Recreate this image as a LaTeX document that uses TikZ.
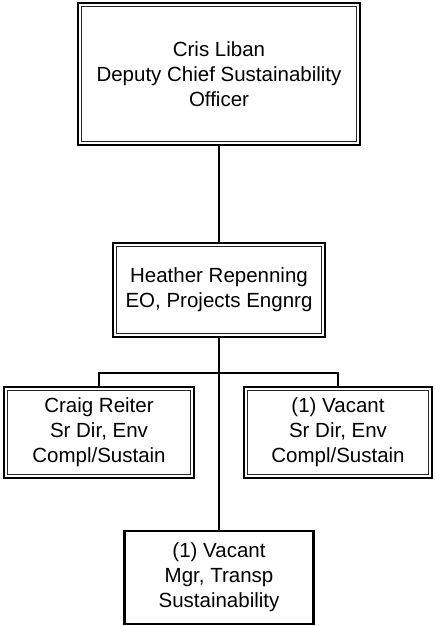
\documentclass[tikz,border=0pt]{standalone}
\usepackage{fontspec}
\setmainfont{Liberation Sans}
\usepackage{tikz}

\begin{document}
\begin{tikzpicture}[x=1pt,y=-1pt,line width=2pt]
    \tikzstyle{post}=[draw,line width=2.2pt,align=center,inner sep=0pt,
        font=\fontsize{20.5}{25}\selectfont]
    \tikzstyle{inner line}=[line width=1pt,black!85]
    \tikzstyle{link}=[draw,line width=2pt]

    \useasboundingbox (0,0) rectangle (435,626);

    % Draw the posts
    \node[post,minimum width=282pt,minimum height=142pt] (cris) at (219,74)
        {Cris Liban\\Deputy Chief Sustainability\\Officer};
    \node[post,minimum width=212pt,minimum height=94pt] (heather) at (219,290)
        {Heather Repenning\\EO, Projects Engnrg};
    \node[post,minimum width=190pt,minimum height=91pt] (craig) at (99,432.5)
        {Craig Reiter\\Sr Dir, Env\\Compl/Sustain};
    \node[post,minimum width=188pt,minimum height=91pt] (vacsr) at (338,432.5)
        {(1) Vacant\\Sr Dir, Env\\Compl/Sustain};
    \node[post,minimum width=189pt,minimum height=93pt] (vacmgr) at (219,577.5)
        {(1) Vacant\\Mgr, Transp\\Sustainability};

    % Second border of the double boxes
    \foreach \n in {cris,heather,craig,vacsr}
        \draw[inner line] ([xshift=4.5pt,yshift=-4.5pt]\n.north west)
            rectangle ([xshift=-4.5pt,yshift=4.5pt]\n.south east);

    % Reporting lines
    \coordinate (bar) at (219,373);
    \path[link] (cris) -- (heather);
    \path[link] (heather) -- (vacmgr);
    \path[link] (craig.north) |- (bar) -| (vacsr.north);
\end{tikzpicture}
\end{document}
